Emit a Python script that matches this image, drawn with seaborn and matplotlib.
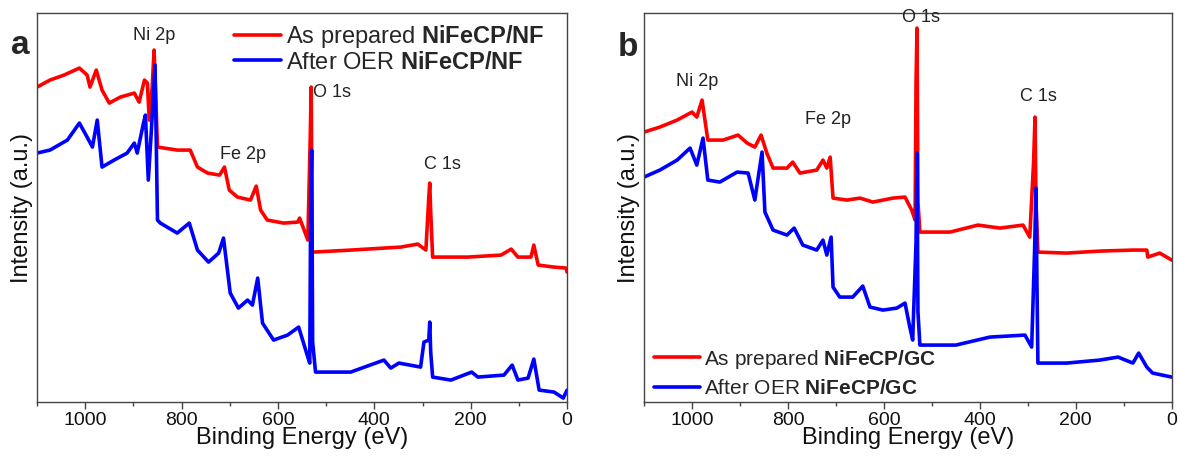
import numpy as np
import pandas as pd
import seaborn as sns
import matplotlib.pyplot as plt
from matplotlib.ticker import MultipleLocator

# panel a: NiFeCP/NF (binding energy in eV, intensity a.u.)
nf_prep_e = [1100, 1073, 1044, 1012, 996, 990, 977, 965, 950, 927, 898, 888, 877, 871, 867,
             861, 857, 850, 836, 809, 782, 767, 746, 721, 711, 701, 684, 657, 645, 636, 622,
             588, 559, 555, 538, 533, 531, 529, 526, 449, 380, 345, 310, 293, 287, 285, 283,
             279, 206, 137, 116, 102, 75, 69, 60, 27, 2, 0]
nf_prep_i = [315, 322, 327, 334, 327, 315, 332, 312, 299, 305, 309, 300, 322, 319, 282,
             315, 352, 255, 254, 252, 252, 235, 229, 227, 235, 212, 205, 202, 216, 192, 182,
             179, 180, 184, 162, 264, 315, 150, 150, 152, 154, 155, 158, 152, 205, 219, 190,
             145, 145, 147, 153, 145, 145, 157, 137, 135, 134, 130]
nf_oer_e = [1100, 1073, 1037, 1012, 996, 985, 975, 965, 940, 913, 898, 892, 879, 875, 869,
            863, 855, 850, 844, 809, 784, 767, 744, 723, 713, 699, 682, 663, 653, 642, 632,
            609, 580, 557, 538, 534, 532, 530, 528, 522, 449, 380, 366, 349, 304, 297, 287,
            285, 283, 279, 241, 198, 185, 131, 114, 102, 81, 69, 58, 27, 8, 0]
nf_oer_i = [249, 252, 262, 279, 265, 255, 282, 235, 242, 249, 259, 249, 279, 287, 222,
            269, 337, 182, 179, 169, 179, 152, 140, 149, 164, 109, 94, 102, 97, 124, 79,
            62, 67, 75, 45, 39, 200, 252, 60, 30, 30, 42, 34, 39, 35, 60, 62,
            80, 50, 25, 22, 30, 25, 27, 37, 22, 24, 43, 12, 10, 4, 12]

# panel b: NiFeCP/GC
gc_prep_e = [1100, 1067, 1031, 1000, 990, 979, 967, 935, 904, 885, 869, 856, 844, 831, 802,
             790, 775, 740, 727, 719, 712, 706, 677, 650, 623, 581, 556, 542, 535, 533, 531,
             529, 525, 462, 404, 358, 310, 296, 288, 285, 283, 279, 219, 150, 81, 52, 50,
             25, 0]
gc_prep_i = [270, 275, 282, 290, 285, 302, 262, 262, 267, 259, 255, 267, 249, 234, 234,
             240, 229, 232, 242, 234, 245, 204, 202, 204, 200, 204, 205, 192, 182, 320, 374,
             200, 170, 170, 177, 174, 177, 165, 240, 285, 200, 150, 149, 151, 152, 152, 145,
             149, 142]
gc_oer_e = [1100, 1067, 1031, 1004, 990, 977, 967, 942, 906, 883, 869, 865, 854, 848, 831,
            802, 787, 769, 740, 727, 719, 710, 706, 692, 665, 644, 629, 602, 573, 556, 546,
            540, 533, 531, 529, 525, 450, 379, 306, 292, 286, 283, 281, 279, 219, 150, 112,
            81, 69, 52, 40, 0]
gc_oer_i = [225, 232, 242, 254, 237, 264, 222, 220, 230, 229, 202, 215, 250, 190, 172,
            167, 174, 157, 152, 162, 147, 165, 115, 105, 105, 116, 95, 92, 94, 99, 75,
            62, 160, 249, 90, 57, 57, 65, 67, 55, 150, 214, 120, 39, 39, 42, 45,
            39, 49, 35, 29, 25]

nf_labels = [r"As prepared $\mathbf{NiFeCP/NF}$", r"After OER $\mathbf{NiFeCP/NF}$"]
gc_labels = [r"As prepared $\mathbf{NiFeCP/GC}$", r"After OER $\mathbf{NiFeCP/GC}$"]

# peak labels: (text, energy, intensity)
nf_peaks = [('Ni 2p', 857, 358), ('Fe 2p', 672, 239), ('C 1s', 258, 229)]
gc_peaks = [('Ni 2p', 989, 312), ('Fe 2p', 717, 274), ('C 1s', 277, 297), ('O 1s', 523, 376)]

sns.set_style("ticks")
plt.rcParams['font.family'] = ['Liberation Sans', 'DejaVu Sans']
plt.rcParams['mathtext.fontset'] = 'custom'
plt.rcParams['mathtext.bf'] = 'Liberation Sans:bold'
plt.rcParams['mathtext.rm'] = 'Liberation Sans'

fig = plt.figure(figsize=(11.78, 4.59), dpi=100)
ax_a = fig.add_axes([0.0314, 0.124, 0.450, 0.8475])
ax_b = fig.add_axes([0.5467, 0.124, 0.448, 0.8475])


def draw(ax, e1, i1, e2, i2, labels):
    df1 = pd.DataFrame({'E': e1, 'I': i1})
    df2 = pd.DataFrame({'E': e2, 'I': i2})
    sns.lineplot(data=df1, x='E', y='I', color='#ff0000', lw=2.6, sort=False,
                 estimator=None, label=labels[0], ax=ax)
    sns.lineplot(data=df2, x='E', y='I', color='#0000ff', lw=2.6, sort=False,
                 estimator=None, label=labels[1], ax=ax)
    ax.set_xlim(1100, 0)
    ax.set_ylim(0, 389)
    ax.set_yticks([])
    ax.xaxis.set_major_locator(MultipleLocator(200))
    ax.xaxis.set_minor_locator(MultipleLocator(100))
    ax.tick_params(axis='x', which='major', direction='out', length=5, width=1,
                   color='#444444', labelsize=14, pad=2, labelcolor='#111111')
    ax.tick_params(axis='x', which='minor', direction='out', length=3, width=1,
                   color='#444444')
    for s in ax.spines.values():
        s.set_visible(True)
        s.set_color('#444444')
        s.set_linewidth(1)
    ax.set_xlabel('Binding Energy (eV)', fontsize=17, labelpad=-1, color='#111111')
    ax.set_ylabel('Intensity (a.u.)', fontsize=17, labelpad=3, color='#111111')


draw(ax_a, nf_prep_e, nf_prep_i, nf_oer_e, nf_oer_i, nf_labels)
draw(ax_b, gc_prep_e, gc_prep_i, gc_oer_e, gc_oer_i, gc_labels)

ax_a.legend(loc='upper right', bbox_to_anchor=(0.98, 1.004), fontsize=17, frameon=False,
            handlelength=2.0, handletextpad=0.2, labelspacing=0.05, borderpad=0)
ax_b.legend(loc='lower left', bbox_to_anchor=(0.0, -0.016), fontsize=15, frameon=False,
            handlelength=2.2, handletextpad=0.2, labelspacing=0.4, borderpad=0)

for txt, e, i in nf_peaks:
    ax_a.text(e, i, txt, fontsize=13, ha='center', va='bottom', color='#222222')
ax_a.text(528, 318, 'O 1s', fontsize=13, ha='left', va='top', color='#222222')
for txt, e, i in gc_peaks:
    ax_b.text(e, i, txt, fontsize=13, ha='center', va='bottom', color='#222222')

fig.text(0.009, 1 - 54 / 459, 'a', fontsize=24, fontweight='bold', va='baseline')
fig.text(0.524, 1 - 56 / 459, 'b', fontsize=24, fontweight='bold', va='baseline')

fig.savefig('out.png', dpi=100)
